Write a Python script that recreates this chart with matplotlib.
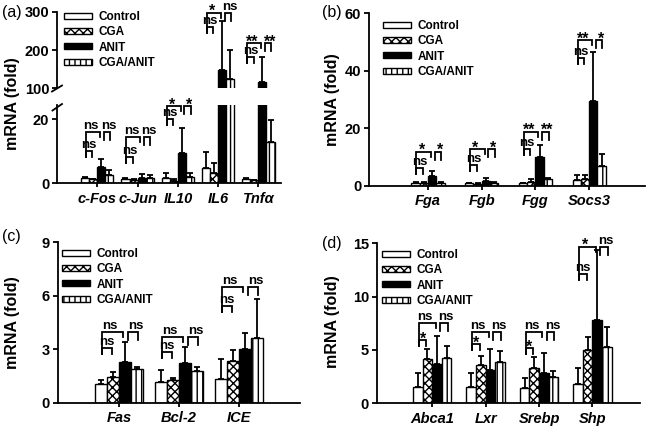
import numpy as np
import matplotlib
matplotlib.use('Agg')
from matplotlib import pyplot as plt
from matplotlib.patches import Patch
from matplotlib.lines import Line2D

plt.rcParams['font.family'] = ['Liberation Sans', 'DejaVu Sans']
plt.rcParams['hatch.linewidth'] = 1.0

W, H = 647, 430

groups = ['Control', 'CGA', 'ANIT', 'CGA/ANIT']

# (a)
genes_a = ['c-Fos', 'c-Jun', 'IL10', 'IL6', 'Tnfα']
ctrl_a = [1.5, 1.3, 1.7, 4.7, 1.3]
cga_a = [1.2, 1.0, 0.8, 3.1, 0.9]
anit_a = [5.1, 1.8, 9.5, 148, 117]
combo_a = [2.5, 1.8, 2.1, 124, 12.8]
ctrl_a_sd = [0.4, 0.3, 1.4, 5.1, 0.2]
cga_a_sd = [0.2, 0.2, 0.4, 3.1, 0.1]
anit_a_sd = [2.5, 1.0, 7.8, 127, 66]
combo_a_sd = [1.8, 0.8, 1.0, 76, 6.9]
sig_small_a = ['ns', 'ns', 'ns', 'ns', 'ns']
sig_big_a = ['ns', 'ns', '*', '*', '**']
sig_right_a = ['ns', 'ns', '*', 'ns', '**']

# (b)
genes_b = ['Fga', 'Fgb', 'Fgg', 'Socs3']
ctrl_b = [1.0, 0.8, 0.8, 2.0]
cga_b = [1.0, 0.7, 1.3, 2.2]
anit_b = [3.4, 1.8, 10.1, 29.3]
combo_b = [1.0, 0.9, 2.2, 7.0]
ctrl_b_sd = [0.2, 0.1, 0.2, 1.8]
cga_b_sd = [0.3, 0.1, 0.9, 1.4]
anit_b_sd = [1.8, 0.9, 4.1, 17.1]
combo_b_sd = [0.4, 0.3, 0.6, 4.0]
sig_small_b = ['ns', 'ns', 'ns', 'ns']
sig_big_b = ['*', '*', '**', '**']
sig_right_b = ['*', '*', '**', '*']

# (c)
genes_c = ['Fas', 'Bcl-2', 'ICE']
ctrl_c = [1.03, 1.14, 1.31]
cga_c = [1.42, 1.25, 2.36]
anit_c = [2.30, 2.21, 3.01]
combo_c = [1.87, 1.78, 3.61]
ctrl_c_sd = [0.24, 0.69, 1.14]
cga_c_sd = [0.28, 0.11, 0.60]
anit_c_sd = [1.12, 0.93, 0.92]
combo_c_sd = [0.11, 0.20, 2.19]
sig_small_c = ['ns', 'ns', 'ns']
sig_big_c = ['ns', 'ns', 'ns']
sig_right_c = ['ns', 'ns', 'ns']

# (d)
genes_d = ['Abca1', 'Lxr', 'Srebp', 'Shp']
ctrl_d = [1.56, 1.50, 1.40, 1.78]
cga_d = [4.15, 3.59, 3.34, 5.00]
anit_d = [3.65, 3.12, 2.81, 7.80]
combo_d = [4.28, 3.84, 2.50, 5.25]
ctrl_d_sd = [1.31, 1.37, 0.94, 1.50]
cga_d_sd = [0.91, 0.84, 1.03, 1.24]
anit_d_sd = [2.66, 1.97, 1.93, 6.60]
combo_d_sd = [1.09, 1.06, 0.56, 1.94]
sig_small_d = ['*', '*', '*', 'ns']
sig_big_d = ['ns', 'ns', 'ns', '*']
sig_right_d = ['ns', 'ns', 'ns', 'ns']

# bracket levels (bottom of small bracket, top of big bracket) - layout only
lev_a = [(8.3, 16.0), (6.2, 14.5), (18.1, 24.0), (243.6, 297.4), (165.3, 217.5)]
lev_b = [(4.1, 11.8), (5.2, 12.7), (10.7, 18.8), (42.2, 50.7)]
lev_c = [(2.75, 3.98), (2.49, 3.70), (5.07, 6.51)]
lev_d = [(5.37, 7.5), (5.0, 6.71), (4.62, 6.65), (11.56, 14.68)]

fills = ['white', 'white', 'black', 'white']
hatches = [None, 'xxxx', None, '|||']

TICK_FS = 10.5
XTICK_FS = 10.5
LAB_FS = 11.5
SIG_FS = 9.5
STAR_FS = 11.5
LEG_FS = 8.5


def rect(x0, y0, x1, y1):
    # pixel box -> figure fraction
    return [x0 / W, 1 - y1 / H, (x1 - x0) / W, (y1 - y0) / H]


def style_axis(ax):
    for s in ['top', 'right']:
        ax.spines[s].set_visible(False)
    for s in ['left', 'bottom']:
        ax.spines[s].set_linewidth(1.3)
    ax.tick_params(axis='y', direction='out', length=3.5, width=1.3, pad=2,
                   labelsize=TICK_FS)
    ax.tick_params(axis='x', direction='out', length=3, width=1.3, pad=3,
                   labelsize=XTICK_FS)
    for t in ax.get_yticklabels():
        t.set_fontweight('bold')


def draw_bars(ax, x, means, sds, width):
    offs = (np.arange(4) - 1.5) * width
    for k in range(4):
        m = np.array(means[k], dtype=float)
        ax.bar(x + offs[k], m, width, yerr=[np.zeros(len(m)), sds[k]],
               color=fills[k], edgecolor='black', hatch=hatches[k], linewidth=1.0,
               error_kw=dict(ecolor='black', elinewidth=1.3, capsize=2.3, capthick=1.3))


def ppu(ax):
    y0, y1 = ax.get_ylim()
    return ax.bbox.height / (y1 - y0)


def sig_text(ax, x, y, s, p):
    if '*' in s:
        ax.text(x, y - 3.5 / p, s, ha='center', va='baseline', fontsize=STAR_FS,
                fontweight='bold', clip_on=False)
    else:
        ax.text(x, y, s, ha='center', va='bottom', fontsize=SIG_FS,
                fontweight='bold', clip_on=False)


def brackets(ax, g, width, lev, s_small, s_big, s_right):
    p = ppu(ax)
    B, T = lev
    xc = g + (np.arange(4) - 1.5) * width
    a0 = xc[0] + 0.1 * width
    a1 = xc[1] - 0.1 * width
    b1 = xc[2] - 0.15 * width
    r0 = xc[2] + 0.3 * width
    r1 = xc[3] + 0.1 * width
    st = B + 6 / p
    kw = dict(color='black', lw=1.3, clip_on=False, solid_joinstyle='miter')
    ax.plot([a0, a0, a1, a1], [B, st, st, B], **kw)
    ax.plot([a0, a0, b1, b1], [B, T, T, T - 5 / p], **kw)
    ax.plot([r0, r0, r1, r1], [T - 8 / p, T, T, T - 8 / p], **kw)
    sig_text(ax, (a0 + a1) / 2, st, s_small, p)
    sig_text(ax, (a0 + b1) / 2 - 0.25 * width, T, s_big, p)
    sig_text(ax, (r0 + r1) / 2 + 0.2 * width, T, s_right, p)


def add_legend(ax, left_px, top_px):
    handles = [Patch(facecolor=fills[k], edgecolor='black', hatch=hatches[k], linewidth=1.0)
               for k in range(4)]
    ax.legend(handles, groups, loc='upper left', bbox_to_anchor=(left_px / W, 1 - top_px / H),
              bbox_transform=fig.transFigure, frameon=False, borderpad=0, borderaxespad=0,
              handlelength=2.4, handleheight=0.4, handletextpad=0.55, labelspacing=0.28,
              prop=dict(size=LEG_FS, weight='bold'))


def xaxis(ax, x, genes, xlim):
    ax.set_xlim(*xlim)
    ax.set_xticks(x)
    ax.set_xticklabels(genes, fontstyle='italic', fontweight='bold')


fig = plt.figure(figsize=(W / 100, H / 100), dpi=100)

# ---------- (a) broken axis ----------
ax_lo = fig.add_axes(rect(57, 105, 281, 183.3))
ax_hi = fig.add_axes(rect(57, 11.7, 281, 88.3))
xa = np.arange(1, len(genes_a) + 1)
wa = 0.2
for ax in (ax_lo, ax_hi):
    draw_bars(ax, xa, [ctrl_a, cga_a, anit_a, combo_a],
              [ctrl_a_sd, cga_a_sd, anit_a_sd, combo_a_sd], wa)
ax_lo.set_ylim(0, 24.4)
ax_hi.set_ylim(100, 300)
ax_lo.set_yticks([0, 20])
ax_hi.set_yticks([100, 200, 300])
xaxis(ax_lo, xa, genes_a, (0, 5.56))
ax_hi.set_xlim(0, 5.56)
style_axis(ax_lo)
style_axis(ax_hi)
ax_hi.spines['bottom'].set_visible(False)
ax_hi.set_xticks([])
for i, g in enumerate(xa):
    ax = ax_hi if lev_a[i][0] >= 100 else ax_lo
    brackets(ax, g, wa, lev_a[i], sig_small_a[i], sig_big_a[i], sig_right_a[i])
add_legend(ax_hi, 64, 11)
for (x0, y0, x1, y1) in [(52, 91.5, 62, 85.5), (52.5, 110.5, 62, 104)]:
    fig.add_artist(Line2D([x0 / W, x1 / W], [1 - y0 / H, 1 - y1 / H], color='black', lw=1.3))
fig.text(12.5 / W, 1 - 103.3 / H, 'mRNA (fold)', rotation=90, ha='center', va='center',
         fontsize=LAB_FS, fontweight='bold')
fig.text(2 / W, 1 - 12 / H, '(a)', ha='left', va='center', fontsize=11.5)

# ---------- (b) ----------
ax_b = fig.add_axes(rect(369, 13.2, 645, 185.7))
xb = np.arange(1, len(genes_b) + 1)
wb = 0.155
draw_bars(ax_b, xb, [ctrl_b, cga_b, anit_b, combo_b],
          [ctrl_b_sd, cga_b_sd, anit_b_sd, combo_b_sd], wb)
ax_b.set_ylim(0, 60)
ax_b.set_yticks([0, 20, 40, 60])
xaxis(ax_b, xb, genes_b, (-0.10, 5.04))
style_axis(ax_b)
for i, g in enumerate(xb):
    brackets(ax_b, g, wb, lev_b[i], sig_small_b[i], sig_big_b[i], sig_right_b[i])
add_legend(ax_b, 383, 20)
fig.text(332 / W, 1 - 100 / H, 'mRNA (fold)', rotation=90, ha='center', va='center',
         fontsize=LAB_FS, fontweight='bold')
fig.text(322 / W, 1 - 13 / H, '(b)', ha='left', va='center', fontsize=11.5)

# ---------- (c) ----------
ax_c = fig.add_axes(rect(57.7, 242.3, 300, 402.7))
xc = np.arange(1, len(genes_c) + 1)
wc = 0.2
draw_bars(ax_c, xc, [ctrl_c, cga_c, anit_c, combo_c],
          [ctrl_c_sd, cga_c_sd, anit_c_sd, combo_c_sd], wc)
ax_c.set_ylim(0, 9)
ax_c.set_yticks([0, 3, 6, 9])
xaxis(ax_c, xc, genes_c, (-0.02, 4.02))
style_axis(ax_c)
for i, g in enumerate(xc):
    brackets(ax_c, g, wc, lev_c[i], sig_small_c[i], sig_big_c[i], sig_right_c[i])
add_legend(ax_c, 62, 248)
fig.text(12.5 / W, 1 - 323 / H, 'mRNA (fold)', rotation=90, ha='center', va='center',
         fontsize=LAB_FS, fontweight='bold')
fig.text(2 / W, 1 - 236 / H, '(c)', ha='left', va='center', fontsize=11.5)

# ---------- (d) ----------
ax_d = fig.add_axes(rect(376.7, 243.3, 640, 403.3))
xd = np.arange(1, len(genes_d) + 1)
wd = 0.18
draw_bars(ax_d, xd, [ctrl_d, cga_d, anit_d, combo_d],
          [ctrl_d_sd, cga_d_sd, anit_d_sd, combo_d_sd], wd)
ax_d.set_ylim(0, 15)
ax_d.set_yticks([0, 5, 10, 15])
xaxis(ax_d, xd, genes_d, (-0.04, 4.89))
style_axis(ax_d)
for i, g in enumerate(xd):
    brackets(ax_d, g, wd, lev_d[i], sig_small_d[i], sig_big_d[i], sig_right_d[i])
add_legend(ax_d, 382, 249)
fig.text(332 / W, 1 - 322 / H, 'mRNA (fold)', rotation=90, ha='center', va='center',
         fontsize=LAB_FS, fontweight='bold')
fig.text(322 / W, 1 - 244 / H, '(d)', ha='left', va='center', fontsize=11.5)

fig.savefig('out.png', dpi=100)
